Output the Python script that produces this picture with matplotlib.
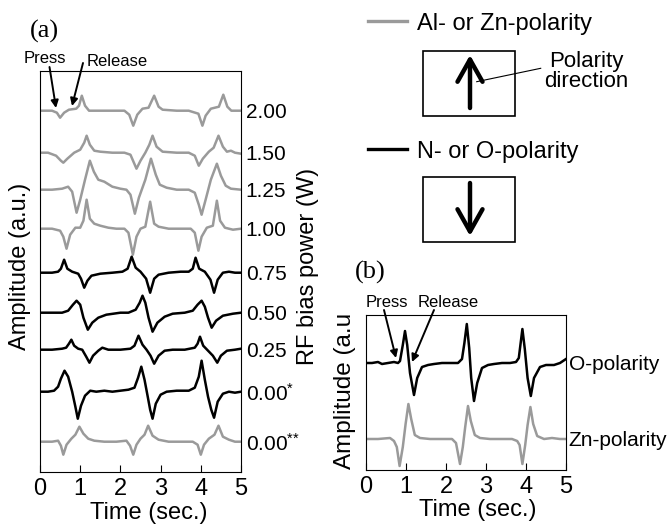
import matplotlib
matplotlib.use("Agg")
import matplotlib.pyplot as plt
from matplotlib.patches import Rectangle

plt.rcParams['font.family'] = ['Liberation Sans', 'DejaVu Sans']
plt.rcParams['mathtext.default'] = 'regular'

GRAY = '#9a9a9a'
BLACK = '#000000'

# ---- panel (a): RF bias power series, time (s) vs amplitude (a.u.) ----
bias_labels = ['2.00', '1.50', '1.25', '1.00', '0.75', '0.50', '0.25',
               '0.00$^{{*}}$', '0.00$^{{*}{*}}$']
bias_colors = [GRAY, GRAY, GRAY, GRAY, BLACK, BLACK, BLACK, BLACK, GRAY]

t_200 = [0, 0.3, 0.42, 0.5, 0.6, 0.72, 0.9, 0.97, 1.04, 1.12, 1.22, 1.5, 1.8, 2.1, 2.22,
         2.32, 2.42, 2.55, 2.7, 2.84, 2.95, 3.05, 3.4, 3.7, 3.94, 4.04, 4.12, 4.25, 4.45,
         4.56, 4.66, 4.76, 5.0]
a_200 = [0, 0, -2, -7, -2, 1, 2, 5, 15, 5, 0, 0, 0, 0, -4,
         -15, -4, 2, 3, 15, 4, 1, 0, 0, -3, -15, -5, 2, 4,
         16, 4, 0, 0]

t_150 = [0, 0.2, 0.4, 0.52, 0.58, 0.68, 0.85, 1.0, 1.1, 1.16, 1.24, 1.35, 1.5, 1.8, 2.1,
         2.25, 2.4, 2.5, 2.62, 2.72, 2.8, 2.9, 3.05, 3.4, 3.7, 3.85, 3.95, 4.05, 4.2,
         4.32, 4.44, 4.55, 4.65, 4.75, 4.85, 5.0]
a_150 = [0, 0, -3, -8, -10, -6, 0, 3, 10, 17, 8, 2, 1, 0, 0,
         -2, -16, -8, 0, 8, 17, 6, 1, 0, 0, -3, -13, -6, 1,
         5, 17, 6, 1, 2, 0, -1]

t_125 = [0, 0.3, 0.55, 0.7, 0.8, 0.91, 1.0, 1.12, 1.24, 1.34, 1.45, 1.6, 1.8, 2.0, 2.15,
         2.25, 2.36, 2.46, 2.62, 2.76, 2.88, 2.98, 3.15, 3.4, 3.7, 3.85, 3.95, 4.02, 4.12,
         4.25, 4.4, 4.5, 4.62, 4.75, 5.0]
a_125 = [0, 0, 1, 3, -2, -23, -10, 10, 29, 18, 10, 8, 3, 1, 0,
         -5, -24, -8, 10, 31, 15, 5, 2, 0, 0, -3, -15, -25, -10,
         10, 26, 14, 4, 1, 0]

t_100 = [0, 0.3, 0.5, 0.58, 0.66, 0.75, 0.88, 1.0, 1.08, 1.16, 1.24, 1.35, 1.5, 1.7, 1.9,
         2.1, 2.2, 2.31, 2.4, 2.5, 2.62, 2.74, 2.84, 2.95, 3.2, 3.5, 3.75, 3.85, 3.94,
         4.02, 4.15, 4.3, 4.4, 4.48, 4.6, 4.8, 5.0]
a_100 = [0, 0, -2, -8, -20, -6, 1, 1, 8, 29, 10, 5, 3, 1, 0,
         0, -4, -26, -8, 0, 2, 27, 5, 2, 0, 0, 0, -4, -22,
         -8, 1, 3, 28, 8, 1, -1, 0]

t_075 = [0, 0.3, 0.45, 0.52, 0.6, 0.68, 0.8, 0.95, 1.02, 1.1, 1.18, 1.28, 1.5, 1.8, 2.05,
         2.18, 2.28, 2.38, 2.5, 2.64, 2.74, 2.84, 2.95, 3.2, 3.5, 3.7, 3.8, 3.87, 3.96,
         4.1, 4.24, 4.33, 4.42, 4.55, 4.7, 4.85, 5.0]
a_075 = [0, 0, 1, 4, 13, 4, 1, -1, -6, -15, -8, -3, -1, 0, 1,
         4, 16, 5, 1, -6, -20, -6, -2, 0, 1, 1, 4, 15, 4,
         1, -7, -20, -7, 0, 1, 0, 0]

t_050 = [0, 0.3, 0.55, 0.7, 0.82, 0.91, 1.0, 1.08, 1.19, 1.3, 1.45, 1.65, 2.0, 2.2, 2.38,
         2.48, 2.55, 2.62, 2.7, 2.8, 2.92, 3.1, 3.3, 3.6, 3.8, 3.92, 4.02, 4.1, 4.18,
         4.27, 4.38, 4.55, 4.8, 5.0]
a_050 = [0, 0, 0, 2, 8, 12, 8, -5, -17, -10, -5, -2, 0, 0, 3,
         10, 17, 10, -5, -19, -10, -4, -1, 0, 2, 8, 12, 6, -5,
         -15, -8, -3, -1, 0]

t_025 = [0, 0.3, 0.55, 0.65, 0.72, 0.78, 0.85, 0.95, 1.05, 1.15, 1.23, 1.32, 1.45, 1.55,
         1.7, 2.0, 2.25, 2.35, 2.45, 2.55, 2.65, 2.75, 2.84, 2.95, 3.1, 3.3, 3.6, 3.85,
         3.92, 3.98, 4.06, 4.18, 4.3, 4.41, 4.5, 4.65, 4.85, 5.0]
a_025 = [0, 0, 1, 2, 6, 10, 4, 1, 0, -7, -13, -6, -1, 2,
         0, 0, 1, 4, 14, 5, 0, -6, -14, -6, -1, 0, 0, 2,
         6, 13, 4, -1, -6, -13, -6, -1, 0, 1]

t_000a = [0, 0.2, 0.35, 0.45, 0.52, 0.61, 0.7, 0.8, 0.88, 0.94, 1.02, 1.12, 1.25, 1.4,
          1.6, 1.8, 2.0, 2.2, 2.35, 2.44, 2.52, 2.6, 2.68, 2.74, 2.8, 2.88, 3.0, 3.15,
          3.4, 3.7, 3.85, 3.95, 4.02, 4.1, 4.18, 4.26, 4.33, 4.42, 4.55, 4.7, 4.85, 5.0]
a_000a = [0, 0, 1, 5, 13, 21, 15, 0, -15, -27, -14, -4, 1, 0,
          1, 0, 1, 2, 4, 14, 25, 12, -5, -18, -27, -12, -3, 0,
          1, 1, 4, 15, 31, 12, -5, -18, -26, -10, -2, 0, -1, 0]

t_000b = [0, 0.3, 0.45, 0.52, 0.58, 0.66, 0.78, 0.88, 0.98, 1.08, 1.2, 1.35, 1.6, 1.9,
          2.15, 2.24, 2.32, 2.4, 2.5, 2.6, 2.69, 2.8, 2.95, 3.2, 3.5, 3.8, 3.92, 4.0,
          4.08, 4.2, 4.34, 4.44, 4.55, 4.7, 4.85, 5.0]
a_000b = [0, 0, 1, -4, -13, -3, 3, 7, 15, 8, 3, 1, 0, 0,
          1, -4, -13, -3, 3, 7, 16, 6, 2, 0, 0, 0, -3, -13,
          -3, 3, 7, 16, 5, 2, 0, 0]

bias_times = [t_200, t_150, t_125, t_100, t_075, t_050, t_025, t_000a, t_000b]
bias_amps = [a_200, a_150, a_125, a_100, a_075, a_050, a_025, a_000a, a_000b]

# ---- panel (b): O- and Zn-polarity ----
pol_labels = ['O-polarity', 'Zn-polarity']
pol_colors = [BLACK, GRAY]

t_O = [0, 0.15, 0.3, 0.4, 0.55, 0.7, 0.8, 0.85, 0.92, 0.975, 1.03, 1.1, 1.2, 1.28, 1.4,
       1.55, 1.7, 1.9, 2.1, 2.3, 2.4, 2.46, 2.52, 2.58, 2.63, 2.7, 2.78, 2.9, 3.05, 3.2,
       3.4, 3.6, 3.75, 3.82, 3.86, 3.91, 3.97, 4.04, 4.12, 4.2, 4.35, 4.5, 4.7, 4.85, 5.0]
a_O = [0, 0, 1, -1, 0, 1, 0, 2, 18, 32, 18, -10, -32, -15, -4,
       -2, -1, 0, 0, 0, 4, 20, 39, 15, -15, -38, -20, -5, -2, -1,
       0, 0, 1, 5, 18, 34, 14, -15, -33, -15, -4, -2, -2, 0, 4]

t_Zn = [0, 0.3, 0.6, 0.7, 0.77, 0.84, 0.92, 0.99, 1.06, 1.13, 1.22, 1.35, 1.6, 1.9, 2.15,
        2.25, 2.35, 2.42, 2.48, 2.55, 2.62, 2.72, 2.85, 3.1, 3.4, 3.65, 3.78, 3.84, 3.91,
        3.98, 4.04, 4.11, 4.18, 4.28, 4.45, 4.65, 4.85, 5.0]
a_Zn = [0, 0, 1, -2, -8, -27, -8, 15, 35, 20, 4, 1, 0, 0, 0,
        -4, -25, -8, 12, 33, 18, 4, 1, 0, 0, 0, -2, -6, -25,
        -6, 14, 32, 15, 3, 0, 1, 0, 0]

pol_times = [t_O, t_Zn]
pol_amps = [a_O, a_Zn]

# vertical stacking of the traces (a.u.)
bias_offsets = [361, 319, 282, 243, 199, 159, 122, 80, 30]
pol_offsets = [107, 31]

W, H = 672, 532
fig = plt.figure(figsize=(W / 100, H / 100), dpi=100)


def px_axes(l, t, r, b):
    return fig.add_axes([l / W, 1 - b / H, (r - l) / W, (b - t) / H])


def style_panel(ax, ymax, offsets, labels, pad):
    ax.set_xlim(0, 5)
    ax.set_ylim(0, ymax)
    ax.set_xticks(range(6))
    ax.set_yticks(offsets, labels)
    ax.yaxis.tick_right()
    ax.tick_params(axis='x', direction='in', length=5.3, width=0.8, labelsize=17, pad=4.5)
    ax.tick_params(axis='y', length=0, labelsize=15, pad=pad)
    for s in ax.spines.values():
        s.set_linewidth(0.8)


# panel (a)
ax_a = px_axes(40, 70.7, 241, 471.7)
for tt, aa, off, c in zip(bias_times, bias_amps, bias_offsets, bias_colors):
    ax_a.plot(tt, [v + off for v in aa], color=c, lw=1.8)
style_panel(ax_a, 401, bias_offsets, bias_labels, 3.5)
ax_a.set_xlabel('Time (sec.)', fontsize=17)
ax_a.xaxis.set_label_coords(0.539, -0.0756)
ax_a.yaxis.set_label_position('left')
ax_a.set_ylabel('Amplitude (a.u.)', fontsize=17)
ax_a.yaxis.label.set_verticalalignment('center')
ax_a.yaxis.set_label_coords(-0.0995, 0.513)

# panel (b)
ax_b = px_axes(366, 315, 566, 470)
for tt, aa, off, c in zip(pol_times, pol_amps, pol_offsets, pol_colors):
    ax_b.plot(tt, [v + off for v in aa], color=c, lw=1.8)
style_panel(ax_b, 155, pol_offsets, pol_labels, 2)
ax_b.set_xlabel('Time (sec.)', fontsize=17)
ax_b.xaxis.set_label_coords(0.559, -0.187)
ax_b.yaxis.set_label_position('left')
ax_b.set_ylabel('Amplitude (a.u', fontsize=17.5)
ax_b.yaxis.label.set_verticalalignment('center')
ax_b.yaxis.set_label_coords(-0.105, 0.51)

# overlay in pixel coordinates for labels, arrows and the legend drawing
ov = fig.add_axes([0, 0, 1, 1], zorder=10)
ov.set_xlim(0, W)
ov.set_ylim(H, 0)
ov.axis('off')
ov.patch.set_alpha(0)

ov.text(308, 266.5, 'RF bias power (W)', fontsize=17, rotation=90,
        ha='center', va='center')

ov.text(30, 38, '(a)', family='Liberation Serif', fontsize=19)
ov.text(355, 279, '(b)', family='Liberation Serif', fontsize=19)

thin = dict(arrowstyle='-|>', color='k', lw=1.4, mutation_scale=11, shrinkA=0, shrinkB=0)
ov.text(45, 63, 'Press', fontsize=12, ha='center', va='baseline')
ov.text(87, 66, 'Release', fontsize=12, ha='left', va='baseline')
ov.annotate('', xy=(56, 108), xytext=(49.5, 67), arrowprops=thin)
ov.annotate('', xy=(72, 106), xytext=(83, 63), arrowprops=thin)

ov.text(386.5, 307, 'Press', fontsize=12, ha='center', va='baseline')
ov.text(417.5, 307, 'Release', fontsize=12, ha='left', va='baseline')
ov.annotate('', xy=(396, 358), xytext=(384, 310), arrowprops=thin)
ov.annotate('', xy=(412, 362), xytext=(434, 310), arrowprops=thin)

# legend with polarity boxes
ov.plot([368, 407], [20.7, 20.7], color=GRAY, lw=2.4)
ov.text(417, 30, 'Al- or Zn-polarity', fontsize=17, va='baseline')
ov.plot([368, 407], [149, 149], color=BLACK, lw=2.4)
ov.text(417, 158.3, 'N- or O-polarity', fontsize=17, va='baseline')

thick = dict(arrowstyle='->,head_length=0.8,head_width=0.45', color='k', lw=3.2,
             mutation_scale=20, shrinkA=0, shrinkB=0)
for top in (50.7, 177.3):
    ov.add_patch(Rectangle((422.7, top), 92.6, 65, fill=False, lw=1.2, ec='k'))
ov.annotate('', xy=(470, 55), xytext=(470, 108), arrowprops=thick)
ov.annotate('', xy=(470, 236), xytext=(470, 183), arrowprops=thick)
ov.plot([476.7, 540.7], [81.7, 68.3], color='k', lw=0.8)
ov.text(586.7, 66.7, 'Polarity', fontsize=16, ha='center', va='baseline')
ov.text(586.7, 87.3, 'direction', fontsize=16, ha='center', va='baseline')

fig.savefig('out.png', dpi=100)
